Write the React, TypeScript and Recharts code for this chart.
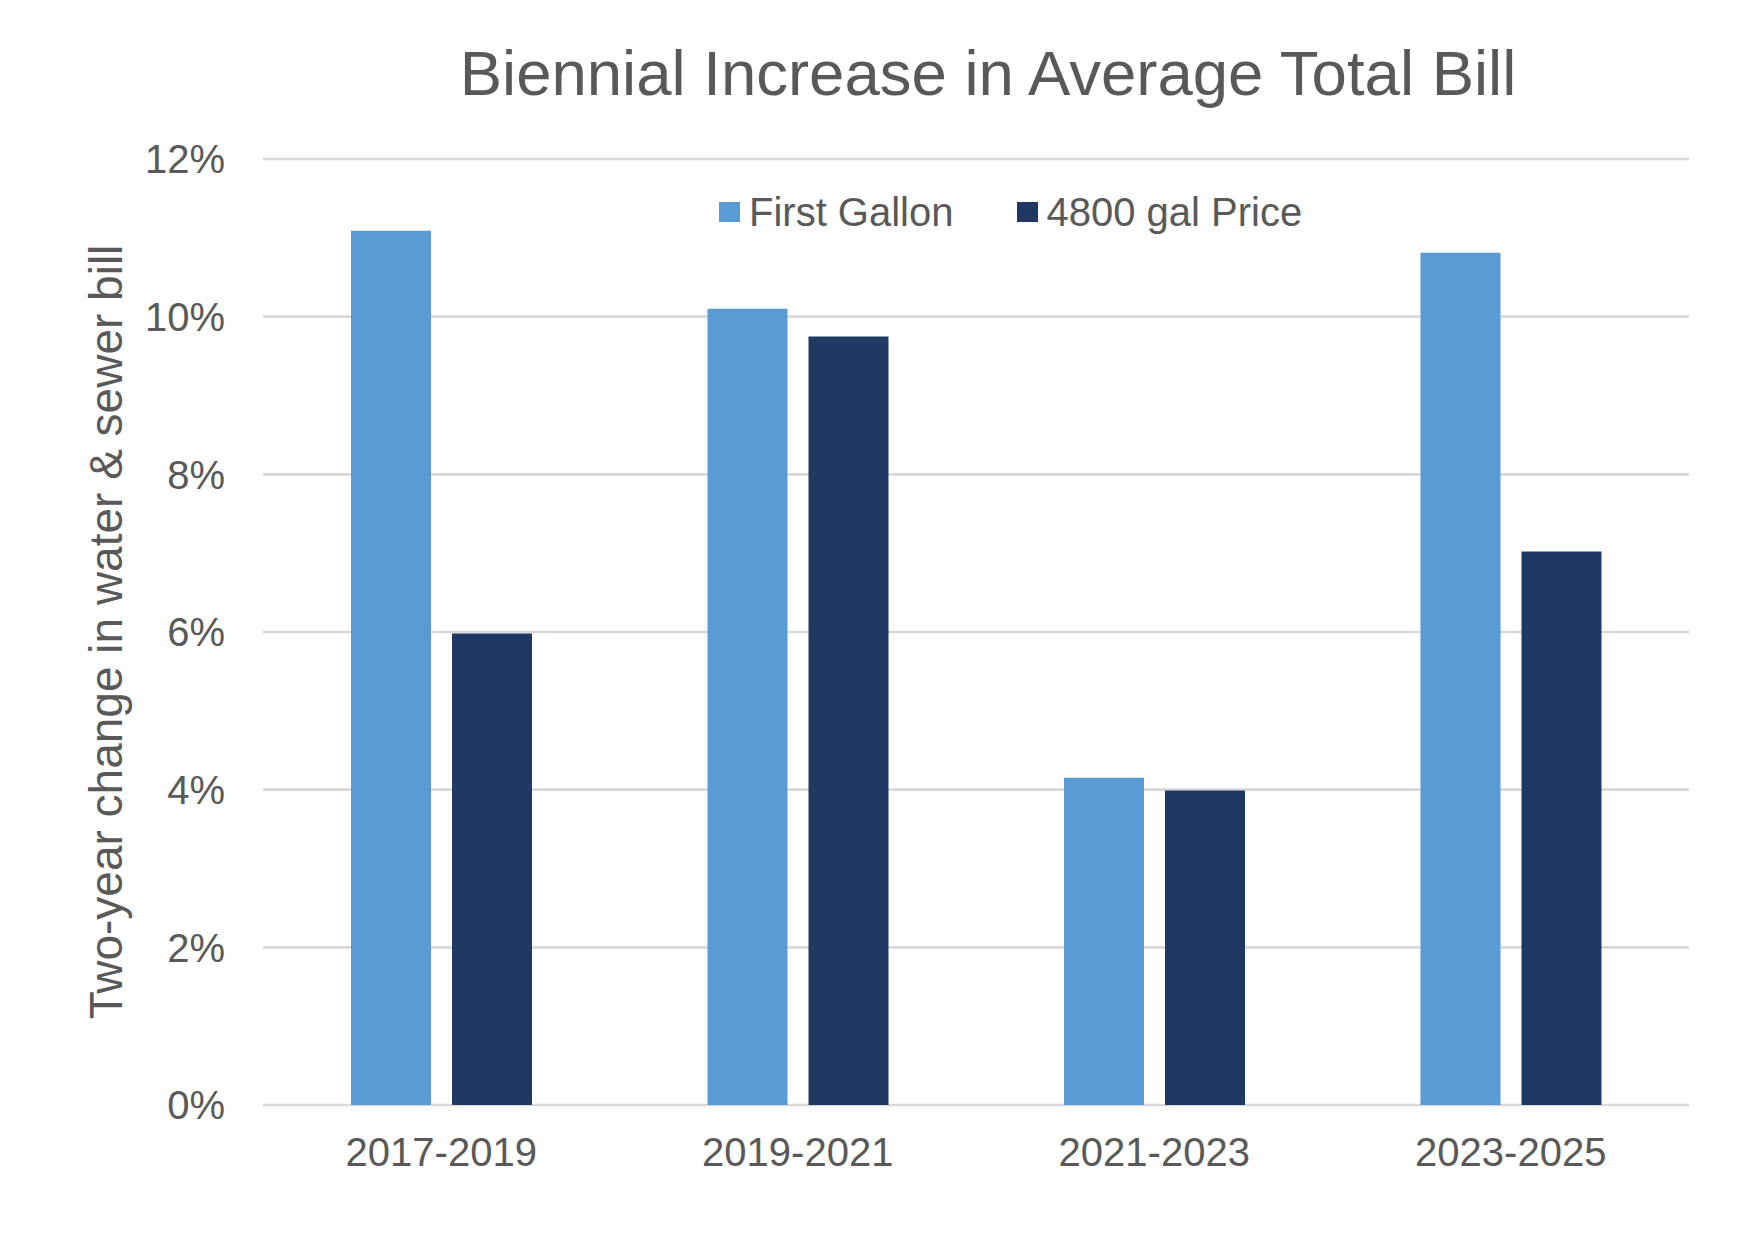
import React from 'react';
import { BarChart, Bar, XAxis, YAxis, CartesianGrid, Legend } from 'recharts';

const periods = ['2017-2019', '2019-2021', '2021-2023', '2023-2025'];
const firstGallon = [11.09, 10.1, 4.15, 10.81];
const gal4800 = [5.98, 9.75, 3.99, 7.02];
const yTicks = [0, 2, 4, 6, 8, 10, 12];
const seriesNames = ['First Gallon', '4800 gal Price'];

const data = periods.map((p, i) => ({ period: p, first: firstGallon[i], g4800: gal4800[i] }));

const FONT = '"Liberation Sans", Arial, sans-serif';
const TEXT = '#595959';
const LIGHT = '#5B9BD5';
const DARK = '#203864';

const LegendContent = (props: any) => {
  const payload = [...(props.payload || [])].sort(
    (a: any, b: any) => seriesNames.indexOf(a.value) - seriesNames.indexOf(b.value)
  );
  return (
    <div style={{ display: 'flex', alignItems: 'center', fontFamily: FONT, fontSize: 40, lineHeight: '40px', color: TEXT, whiteSpace: 'nowrap' }}>
      {payload.map((e: any, i: number) => (
        <div key={i} style={{ display: 'flex', alignItems: 'center', marginLeft: i === 0 ? 0 : 63 }}>
          <span style={{ display: 'inline-block', width: 21, height: 20, background: e.color, marginRight: 9 }} />
          <span>{e.value}</span>
        </div>
      ))}
    </div>
  );
};

export default function App() {
  return (
    <div style={{ width: 1722, height: 1233, position: 'relative', fontFamily: FONT, background: '#fff' }}>
      <BarChart
        width={1722}
        height={1233}
        data={data}
        margin={{ top: 151, right: 41, bottom: 76, left: 0 }}
        barGap={21}
      >
        <CartesianGrid vertical={false} stroke="#d9d9d9" strokeWidth={2.7} />
        <XAxis
          dataKey="period"
          height={60}
          tickLine={false}
          axisLine={false}
          tickSize={0}
          tickMargin={33}
          tick={{ fontSize: 40, fill: TEXT, fontFamily: FONT }}
        />
        <YAxis
          width={255}
          domain={[0, 12]}
          ticks={yTicks}
          interval={0}
          tickFormatter={(v: number) => `${v}%`}
          tickLine={false}
          axisLine={false}
          tickSize={0}
          tickMargin={38}
          tick={{ fontSize: 40, fill: TEXT, fontFamily: FONT }}
        />
        <Legend
          layout="horizontal"
          verticalAlign="middle"
          align="center"
          wrapperStyle={{ top: 184, left: 711, width: 'auto' }}
          content={<LegendContent />}
        />
        <Bar dataKey="first" name={seriesNames[0]} fill={LIGHT} barSize={80} isAnimationActive={false} />
        <Bar dataKey="g4800" name={seriesNames[1]} fill={DARK} barSize={80} isAnimationActive={false} />
        <text x={980} y={87} textAnchor="middle" fontSize={63.5} fill={TEXT} fontFamily={FONT}>
          Biennial Increase in Average Total Bill
        </text>
        <text
          x={114}
          y={624}
          transform="rotate(-90 114 624)"
          textAnchor="middle"
          fontSize={46}
          fill={TEXT}
          fontFamily={FONT}
        >
          Two-year change in water &amp; sewer bill
        </text>
      </BarChart>
    </div>
  );
}
